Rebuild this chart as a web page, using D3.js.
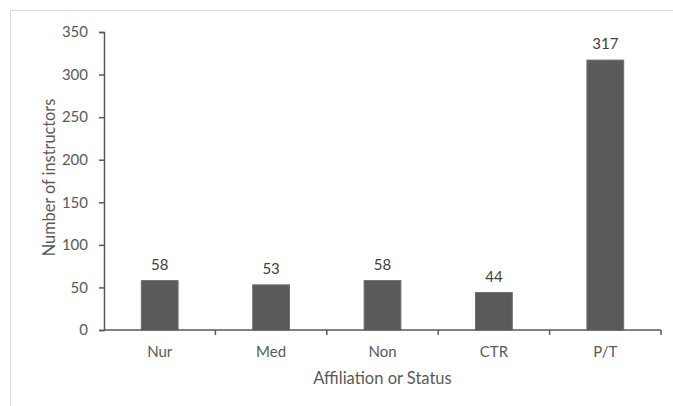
<!DOCTYPE html>
<html>
<head>
<meta charset="utf-8">
<script src="https://cdn.jsdelivr.net/npm/d3@7"></script>
<style>
  html, body { margin: 0; padding: 0; background: #fff; }
  svg { display: block; font-family: Lato, "Open Sans", sans-serif; }
</style>
</head>
<body>
<svg id="chart" width="673" height="406"></svg>
<script>
// Instructor counts by affiliation or status
const categories = ["Nur", "Med", "Non", "CTR", "P/T"];
const instructors = [58, 53, 58, 44, 317];
const yTicks = [0, 50, 100, 150, 200, 250, 300, 350];

const svg = d3.select("#chart");
const W = 673, H = 406;
const margin = { left: 104, right: 12, top: 32, bottom: 76 };
const textColor = "#595959";

// chart frame
svg.append("rect")
  .attr("x", 10.5).attr("y", 10.5)
  .attr("width", W).attr("height", H)
  .attr("fill", "none").attr("stroke", "#d9d9d9").attr("stroke-width", 1);

const x = d3.scaleBand()
  .domain(categories)
  .range([margin.left, W - margin.right])
  .paddingInner(0.67).paddingOuter(0.335);

const xAxisScale = d3.scaleBand().domain(categories).range([margin.left, W - margin.right]);

const y = d3.scaleLinear().domain([0, 350]).range([H - margin.bottom, margin.top]);

// bars
svg.append("g").selectAll("rect")
  .data(instructors)
  .join("rect")
  .attr("x", (d, i) => x(categories[i]))
  .attr("y", d => y(d))
  .attr("width", x.bandwidth())
  .attr("height", d => y(0) - y(d))
  .attr("fill", "#5a5a5a")
  .attr("stroke", "#6e6e6e")
  .attr("stroke-width", 1);

// value labels
svg.append("g").selectAll("text")
  .data(instructors)
  .join("text")
  .attr("x", (d, i) => x(categories[i]) + x.bandwidth() / 2)
  .attr("y", d => y(d) - 11)
  .attr("text-anchor", "middle")
  .attr("fill", "#404040")
  .attr("font-size", 15)
  .text(d => d);

// y axis
const yAxis = svg.append("g")
  .attr("transform", `translate(${margin.left},0)`)
  .call(d3.axisLeft(y).tickValues(yTicks).tickSize(5).tickPadding(11));
yAxis.select(".domain").attr("stroke", textColor).attr("stroke-width", 1.5);
yAxis.selectAll(".tick line").attr("stroke", textColor).attr("stroke-width", 1.5);
yAxis.selectAll(".tick text").attr("fill", textColor).attr("font-size", 15)
  .attr("font-family", "Lato, 'Open Sans', sans-serif");

// x axis with ticks at category boundaries
const xAxisG = svg.append("g")
  .attr("transform", `translate(0,${y(0)})`);
xAxisG.append("line")
  .attr("x1", margin.left).attr("x2", W - margin.right)
  .attr("stroke", textColor).attr("stroke-width", 1.5);
const boundaries = categories.map(c => xAxisScale(c)).concat([W - margin.right]);
xAxisG.selectAll("line.tk")
  .data(boundaries.slice(1))
  .join("line").attr("class", "tk")
  .attr("x1", d => d).attr("x2", d => d)
  .attr("y1", 0).attr("y2", 5)
  .attr("stroke", textColor).attr("stroke-width", 1.5);
xAxisG.selectAll("text")
  .data(categories)
  .join("text")
  .attr("x", d => xAxisScale(d) + xAxisScale.bandwidth() / 2)
  .attr("y", 27)
  .attr("text-anchor", "middle")
  .attr("fill", textColor)
  .attr("font-size", 15)
  .text(d => d);

// axis titles
svg.append("text")
  .attr("x", (margin.left + W - margin.right) / 2)
  .attr("y", 384)
  .attr("text-anchor", "middle")
  .attr("fill", textColor)
  .attr("font-size", 16.5)
  .text("Affiliation or Status");

svg.append("text")
  .attr("transform", `translate(55,177.5) rotate(-90)`)
  .attr("text-anchor", "middle")
  .attr("fill", textColor)
  .attr("font-size", 16.3)
  .text("Number of instructors");
</script>
</body>
</html>
